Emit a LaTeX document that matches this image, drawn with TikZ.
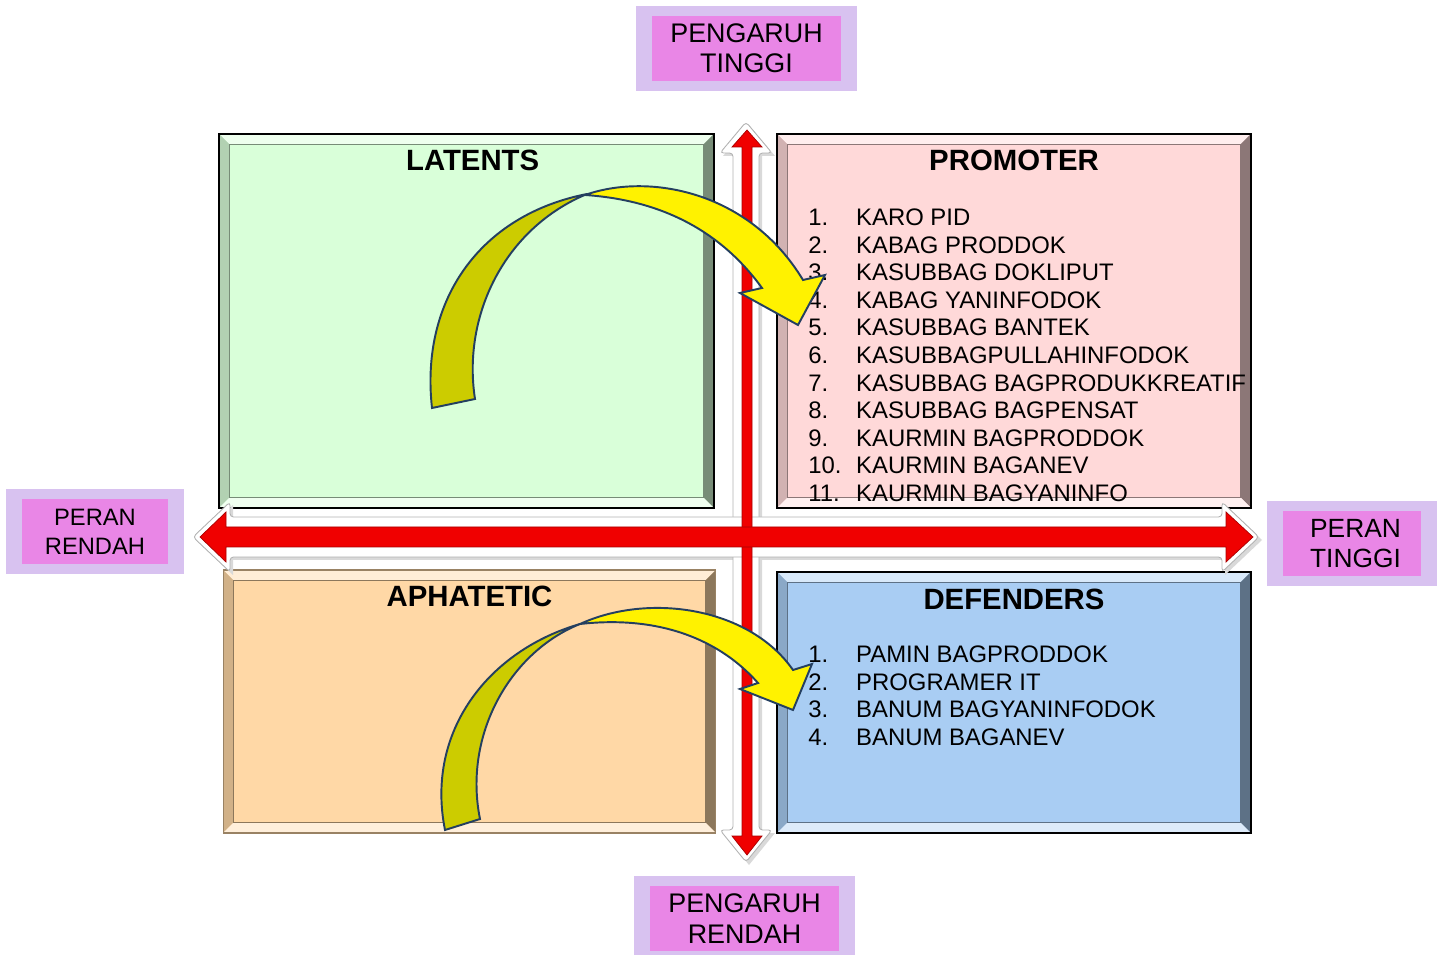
\documentclass[tikz,border=0pt]{standalone}
\usepackage{fontspec}
\setmainfont{Liberation Sans}
\usetikzlibrary{positioning}

\definecolor{latgreen}{HTML}{D9FFD9}
\definecolor{prompink}{HTML}{FFD9D9}
\definecolor{aphpeach}{HTML}{FFD8A6}
\definecolor{defblue}{HTML}{A9CDF3}
\definecolor{taglav}{HTML}{D8C2F0}
\definecolor{tagpink}{HTML}{E986E6}
\definecolor{curlline}{HTML}{243F60}
\definecolor{curlolive}{HTML}{CCCC00}
\definecolor{axisred}{HTML}{F00000}

\tikzset{
  quad/.style={draw=black, line width=1.2pt, fill=#1, inner sep=0pt,
    path picture={
      \path (path picture bounding box.north west) coordinate (nw)
            (path picture bounding box.north east) coordinate (ne)
            (path picture bounding box.south west) coordinate (sw)
            (path picture bounding box.south east) coordinate (se);
      \fill[#1!45!white] (nw) -- (ne) -- ([shift={(-6pt,-6pt)}]ne) -- ([shift={(6pt,-6pt)}]nw) -- cycle;
      \fill[#1!82!black] (nw) -- (sw) -- ([shift={(6pt,6pt)}]sw) -- ([shift={(6pt,-6pt)}]nw) -- cycle;
      \fill[#1!55!black] (se) -- (ne) -- ([shift={(-6pt,-6pt)}]ne) -- ([shift={(-6pt,6pt)}]se) -- cycle;
      \fill[#1!40!white] (se) -- (sw) -- ([shift={(6pt,6pt)}]sw) -- ([shift={(-6pt,6pt)}]se) -- cycle;
      \draw[#1!55!black, line width=0.7pt] ([shift={(6pt,-6pt)}]nw) rectangle ([shift={(-6pt,6pt)}]se);
    }},
  heading/.style={font=\bfseries\fontsize{16.7}{19}\selectfont, inner sep=0pt},
  itemlist/.style={font=\fontsize{13.6}{15.7}\selectfont, inner sep=0pt, anchor=north west},
  tag/.style={fill=taglav, inner sep=0pt, align=center,
    path picture={
      \fill[tagpink] ([shift={(9pt,-5.7pt)}]path picture bounding box.north west)
        rectangle ([shift={(-9pt,5.7pt)}]path picture bounding box.south east);
    }},
  axisback/.style={fill=white, draw=black!30, line width=0.5pt, rounded corners=2pt},
  axisfront/.style={fill=axisred, draw=axisred!70!black, line width=0.4pt},
  curl/.style={draw=curlline, line width=1.1pt}
}

\begin{document}
\begin{tikzpicture}[x=0.02cm, y=-0.02cm]
\useasboundingbox (0,0) rectangle (1437,955);
% Quadrant boxes
\node[quad=latgreen, minimum width=9.9cm, minimum height=7.48cm] (latents) at (466.5,321) {};
\node[quad=prompink, minimum width=9.48cm, minimum height=7.48cm] (promoter) at (1014,321) {};
\node[quad=aphpeach, draw=aphpeach!60!black, line width=0.6pt, minimum width=9.86cm, minimum height=5.26cm] (aphatetic) at (469.5,701.5) {};
\node[quad=defblue, minimum width=9.48cm, minimum height=5.22cm] (defenders) at (1014,702.5) {};
% Axis shadows
\fill[black!15] (196,540) -- (233,505) -- (233,520) -- (1225,520) -- (1225,505) -- (1262,540) -- (1225,575) -- (1225,560) -- (233,560) -- (233,575) -- cycle;
\fill[black!15] (749,125) -- (775,156) -- (762,156) -- (762,833) -- (775,833) -- (749,865) -- (723,833) -- (736,833) -- (736,156) -- (723,156) -- cycle;
% White axis bodies
\filldraw[axisback] (746,122) -- (772,153) -- (759,153) -- (759,830) -- (772,830) -- (746,862) -- (720,830) -- (733,830) -- (733,153) -- (720,153) -- cycle;
\filldraw[axisback] (193,537) -- (230,502) -- (230,517) -- (1222,517) -- (1222,502) -- (1259,537) -- (1222,572) -- (1222,557) -- (230,557) -- (230,572) -- cycle;
% Red axis arrows
\filldraw[axisfront] (747,130) -- (762,147) -- (752,147) -- (752,836) -- (762,836) -- (747,855) -- (732,836) -- (742,836) -- (742,147) -- (732,147) -- cycle;
\filldraw[axisfront] (200,537) -- (226,512) -- (226,527) -- (1226,527) -- (1226,512) -- (1253,537) -- (1226,562) -- (1226,547) -- (226,547) -- (226,562) -- cycle;
% Axis tags
\node[tag, minimum width=4.42cm, minimum height=1.7cm, font=\fontsize{15.3}{17.3}\selectfont] (pengaruh-tinggi) at (746.5,48.5) {PENGARUH\\TINGGI};
\node[tag, minimum width=4.42cm, minimum height=1.7cm, font=\fontsize{15.3}{17.3}\selectfont] (pengaruh-rendah) at (744.5,918.5) {PENGARUH\\RENDAH};
\node[tag, minimum width=3.56cm, minimum height=1.7cm, font=\fontsize{13.5}{16.4}\selectfont] (peran-rendah) at (95,531.5) {PERAN\\RENDAH};
\node[tag, minimum width=3.4cm, minimum height=1.7cm, font=\fontsize{15}{17.3}\selectfont] (peran-tinggi) at (1352,543.5) {\hspace*{4pt}PERAN\\\hspace*{4pt}TINGGI};
% Headings
\node[heading, below=9.5pt of latents.north, xshift=3.5pt] (latents-title) {LATENTS};
\node[heading, below=9.5pt of promoter.north] (promoter-title) {PROMOTER};
\node[heading, below=9pt of aphatetic.north] (aphatetic-title) {APHATETIC};
\node[heading, below=10pt of defenders.north] (defenders-title) {DEFENDERS};
% Member lists
\node[itemlist] (promoter-list) at (808,206) {\begin{tabular}{@{}p{27.2pt}@{}l@{}}
1. & KARO PID\\
2. & KABAG PRODDOK\\
3. & KASUBBAG DOKLIPUT\\
4. & KABAG YANINFODOK\\
5. & KASUBBAG BANTEK\\
6. & KASUBBAGPULLAHINFODOK\\
7. & KASUBBAG BAGPRODUKKREATIF\\
8. & KASUBBAG BAGPENSAT\\
9. & KAURMIN BAGPRODDOK\\
10. & KAURMIN BAGANEV\\
11. & KAURMIN BAGYANINFO
\end{tabular}};
\node[itemlist] (defenders-list) at (808,643) {\begin{tabular}{@{}p{27.2pt}@{}l@{}}
1. & PAMIN BAGPRODDOK\\
2. & PROGRAMER IT\\
3. & BANUM BAGYANINFODOK\\
4. & BANUM BAGANEV
\end{tabular}};
% Curved arrows
\filldraw[curl, fill=curlolive] (432,408) .. controls (420,300) and (480,215) .. (587,194) .. controls (505,228) and (462,315) .. (475,399) -- cycle;
\filldraw[curl, fill=yellow] (585,195) .. controls (650,172) and (750,192) .. (803,280) -- (825,275) -- (798,325) -- (740,293) -- (762,288) .. controls (720,230) and (660,200) .. (585,195) -- cycle;
\filldraw[curl, fill=curlolive] (445,830) .. controls (425,730) and (490,650) .. (580,624) .. controls (510,652) and (463,735) .. (480,819) -- cycle;
\filldraw[curl, fill=yellow] (580,624) .. controls (650,592) and (750,608) .. (793,670) -- (812,664) -- (793,710) -- (740,689) -- (758,683) .. controls (720,640) and (660,615) .. (580,624) -- cycle;
\end{tikzpicture}
\end{document}
